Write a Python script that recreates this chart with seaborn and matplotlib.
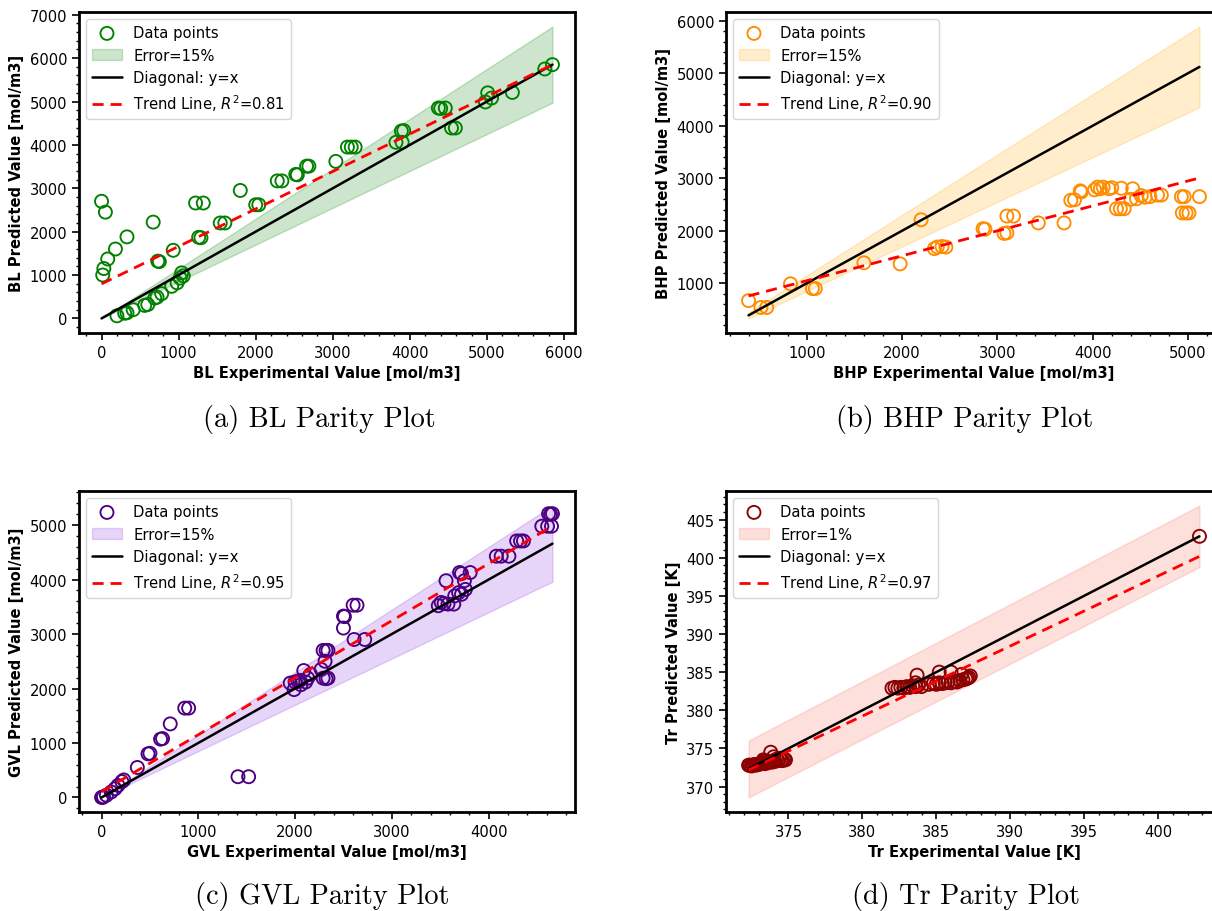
import numpy as np
import matplotlib
matplotlib.use("Agg")
import matplotlib.pyplot as plt
import seaborn as sns

# ---------------- data ----------------
bl_exp = [0, 50, 15, 30, 80, 180, 330, 670, 1220, 1320, 1800, 2000, 2040, 2280, 2340,
          2520, 2540, 2660, 2690, 3040, 3190, 3240, 3290, 3820, 3900, 3890, 3920, 4370,
          4460, 4400, 4540, 4590, 5010, 4980, 5060, 5330, 5750, 5850, 200, 300, 330, 410,
          560, 600, 690, 720, 780, 730, 750, 930, 910, 980, 1020, 1040, 1060, 1260, 1290,
          1540, 1600]
bl_pred = [2700, 2450, 1000, 1150, 1370, 1600, 1880, 2220, 2660, 2660, 2950, 2620, 2620,
           3170, 3170, 3320, 3310, 3510, 3510, 3620, 3950, 3950, 3950, 4060, 4060, 4320,
           4330, 4850, 4850, 4840, 4390, 4390, 5200, 4990, 5080, 5210, 5750, 5850, 60, 120,
           130, 200, 300, 320, 470, 490, 570, 1320, 1310, 1570, 740, 820, 930, 1050, 980,
           1870, 1860, 2200, 2200]

bhp_exp = [390, 520, 580, 830, 1060, 1090, 1600, 1980, 2200, 2340, 2370, 2420, 2460, 2850,
           2870, 3070, 3100, 3100, 3170, 3430, 3700, 3770, 3810, 3870, 3880, 4020, 4050,
           4080, 4110, 4170, 4200, 4300, 4250, 4290, 4330, 4420, 4400, 4460, 4510, 4550,
           4600, 4680, 4720, 4930, 4960, 4940, 4980, 5010, 5120]
bhp_pred = [670, 540, 540, 990, 900, 900, 1390, 1370, 2210, 1660, 1690, 1700, 1690, 2040,
            2030, 1950, 1960, 2280, 2280, 2150, 2150, 2580, 2590, 2760, 2740, 2780, 2830,
            2800, 2830, 2800, 2820, 2810, 2420, 2420, 2420, 2800, 2600, 2610, 2670, 2640,
            2650, 2680, 2680, 2650, 2650, 2340, 2340, 2340, 2650]

gvl_exp = [0, 10, 20, 50, 100, 140, 170, 210, 230, 370, 480, 500, 610, 630, 710, 860, 900,
           1410, 1520, 1950, 1990, 2030, 2060, 2090, 2110, 2160, 2130, 2000, 2050, 2290,
           2320, 2340, 2310, 2290, 2320, 2340, 2270, 2500, 2510, 2500, 2600, 2640, 2610,
           2720, 3480, 3510, 3560, 3580, 3640, 3650, 3690, 3700, 3720, 3760, 3810, 3750,
           3540, 3720, 4080, 4130, 4210, 4290, 4330, 4360, 4550, 4610, 4650, 4620, 4660, 4640]
gvl_pred = [0, 0, 10, 40, 100, 160, 220, 290, 320, 550, 800, 810, 1070, 1080, 1350, 1640,
            1640, 380, 380, 2100, 1980, 2130, 2070, 2330, 2120, 2260, 2190, 2120, 2150, 2700,
            2700, 2700, 2500, 2190, 2180, 2190, 2350, 3330, 3320, 3110, 3530, 3530, 2900,
            2900, 3520, 3580, 3980, 3550, 3550, 3700, 3760, 4130, 3730, 3820, 4130, 3980,
            3560, 4110, 4430, 4430, 4430, 4710, 4710, 4710, 4980, 4980, 4980, 5210, 5210, 5200]

tr_exp = [372.3, 372.4, 372.5, 372.6, 372.7, 372.8, 372.9, 373.0, 373.1, 373.2, 373.3, 373.4,
          373.5, 373.6, 373.7, 373.8, 373.9, 374.0, 374.1, 374.2, 374.3, 374.4, 374.5, 374.6,
          374.7, 374.8, 373.3, 374.0,
          382.0, 382.2, 382.4, 382.6, 382.8, 383.0, 383.2, 383.4, 383.6, 383.8, 384.0,
          384.5, 384.8, 385.0, 385.2, 385.4, 385.6, 385.8, 386.0, 386.2, 386.4, 386.6, 386.8,
          387.0, 387.2, 387.3, 387.1, 383.7, 385.2, 386.0, 386.7, 383.6,
          402.8]
tr_pred = [372.8, 372.8, 372.7, 372.8, 372.9, 372.8, 372.9, 372.9, 373.0, 373.1, 373.3, 373.0,
           373.2, 373.1, 373.3, 374.5, 373.2, 373.4, 373.3, 373.6, 373.4, 373.7, 373.5, 373.4,
           373.6, 373.5, 373.5, 373.9,
           382.9, 383.0, 382.9, 383.0, 382.9, 383.1, 383.0, 383.2, 383.1, 383.3, 383.1,
           383.4, 383.5, 383.4, 383.6, 383.5, 383.6, 383.7, 383.6, 383.8, 383.7, 383.9, 384.0,
           384.1, 384.3, 384.5, 384.2, 384.6, 385.0, 385.0, 384.7, 383.6,
           402.8]

names = ["BL", "BHP", "GVL", "Tr"]
units = ["[mol/m3]", "[mol/m3]", "[mol/m3]", "[K]"]
error_pct = [15, 15, 15, 1]
r2_values = [0.81, 0.90, 0.95, 0.97]
trend_slope = [0.864, 0.475, 1.047, 0.918]
trend_intercept = [796, 574, 105, 30.4]
captions = ["(a) BL Parity Plot", "(b) BHP Parity Plot",
            "(c) GVL Parity Plot", "(d) Tr Parity Plot"]
exp_data = [bl_exp, bhp_exp, gvl_exp, tr_exp]
pred_data = [bl_pred, bhp_pred, gvl_pred, tr_pred]

point_colors = ["green", "darkorange", "indigo", "darkred"]
fill_colors = ["green", "orange", "blueviolet", "salmon"]
fill_alpha = [0.2, 0.2, 0.2, 0.25]

FS = 10.6

# ---------------- styling ----------------
sns.set_style("white")
plt.rcParams.update({
    "font.family": ["DejaVu Sans"],
    "axes.edgecolor": "black",
    "axes.linewidth": 2.0,
    "xtick.color": "black",
    "ytick.color": "black",
    "text.color": "black",
    "axes.labelcolor": "black",
    "xtick.bottom": True,
    "ytick.left": True,
})

fig = plt.figure(figsize=(12.12, 9.12), dpi=100)

W = 496 / 1212
H = 321 / 912
positions = [
    (79 / 1212, 1 - 334 / 912, W, H),
    (726 / 1212, 1 - 334 / 912, W, H),
    (79 / 1212, 1 - 813 / 912, W, H),
    (726 / 1212, 1 - 813 / 912, W, H),
]
caption_pos = [(319, 420), (965, 420), (322, 897), (966, 897)]

for i in range(4):
    ax = fig.add_axes(positions[i])
    x = np.asarray(exp_data[i], dtype=float)
    y = np.asarray(pred_data[i], dtype=float)
    xl = np.array([x.min(), x.max()])
    e = error_pct[i] / 100.0

    band = ax.fill_between(xl, xl * (1 - e), xl * (1 + e), color=fill_colors[i],
                           alpha=fill_alpha[i], label=f"Error={error_pct[i]}%")
    sns.scatterplot(x=x, y=y, ax=ax, marker="o", s=88, facecolors="none",
                    edgecolor=point_colors[i], linewidth=1.35, label="Data points",
                    legend=False)
    diag, = ax.plot(xl, xl, color="black", lw=1.8, label="Diagonal: y=x")
    trend, = ax.plot(xl, trend_slope[i] * xl + trend_intercept[i], color="red", lw=2,
                     ls=(0, (4, 2.5)), label=f"Trend Line, $R^2$={r2_values[i]:.2f}")

    pts = ax.collections[-1]
    ax.legend([pts, band, diag, trend],
              ["Data points", f"Error={error_pct[i]}%", "Diagonal: y=x",
               f"Trend Line, $R^2$={r2_values[i]:.2f}"],
              loc="upper left", fontsize=FS, framealpha=0.8)

    ax.set_xlabel(f"{names[i]} Experimental Value {units[i]}", fontsize=FS,
                  fontweight="bold")
    ax.set_ylabel(f"{names[i]} Predicted Value {units[i]}", fontsize=FS,
                  fontweight="bold")
    ax.minorticks_on()
    ax.tick_params(which="major", direction="out", length=5, width=1.2, labelsize=FS)
    ax.tick_params(which="minor", direction="out", length=2.5, width=1.0)
    for sp in ax.spines.values():
        sp.set_linewidth(2.0)
        sp.set_color("black")

    cx, cy = caption_pos[i]
    fig.text(cx / 1212, 1 - cy / 912, captions[i], ha="center", va="center",
             fontsize=20.4, family=["cmr10", "DejaVu Serif"])

fig.savefig("out.png", dpi=100)
